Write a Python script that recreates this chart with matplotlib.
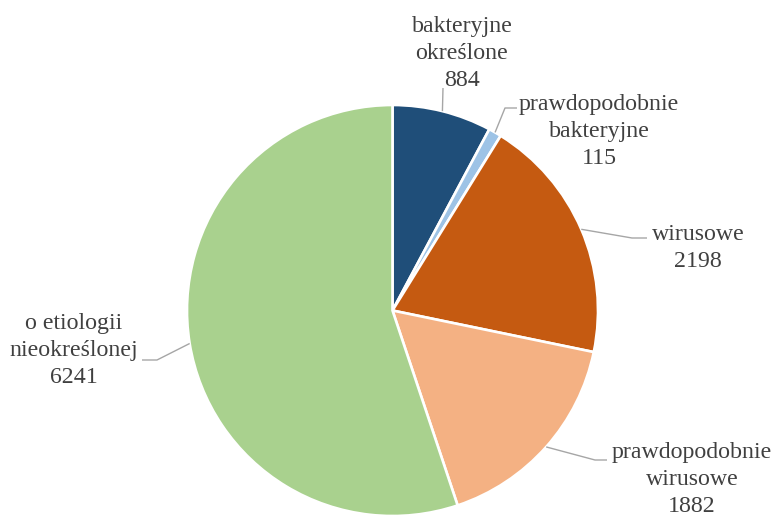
import numpy as np
import matplotlib
matplotlib.use("Agg")
import matplotlib.pyplot as plt

# Hospitalisation counts by aetiology
categories = [
    "bakteryjne\nokreślone",
    "prawdopodobnie\nbakteryjne",
    "wirusowe",
    "prawdopodobnie\nwirusowe",
    "o etiologii\nnieokreślonej",
]
values = [884, 115, 2198, 1882, 6241]
colors = ["#1F4E79", "#9DC3E6", "#C55A11", "#F4B183", "#A9D18E"]

W, H = 776, 516

# Label layout in pixel units (top-left origin): text centre x, first baseline y,
# elbow of the leader line and the end of its short horizontal run.
label_xy = [(462, 32), (599, 110), (698, 240), (692, 458), (74, 329)]
elbows = [(443, 88), (505, 108), (632, 238), (595, 460), (157, 360)]
tails = [(443, 88), (517, 108), (647, 238), (607, 460), (142, 360)]
line_step = 27.0


def py(y):
    return H - y


fig = plt.figure(figsize=(W / 100, H / 100), dpi=100)
ax = fig.add_axes([0, 0, 1, 1])

center = (392.5, py(310.5))
radius = 205.5
wedges, _ = ax.pie(
    values,
    colors=colors,
    startangle=90,
    counterclock=False,
    center=center,
    radius=radius,
    wedgeprops=dict(edgecolor="white", linewidth=1.9),
)

ax.set_xlim(0, W)
ax.set_ylim(0, H)
ax.set_aspect("equal")
ax.axis("off")

text_color = "#404040"
leader_color = "#A6A6A6"
font = dict(family="Liberation Serif", size=17.2, color=text_color)

for w, cat, val, (lx, ly), (ex, ey), (tx, ty) in zip(
    wedges, categories, values, label_xy, elbows, tails
):
    mid = np.deg2rad((w.theta1 + w.theta2) / 2)
    ax_x = w.center[0] + w.r * np.cos(mid)
    ax_y = w.center[1] + w.r * np.sin(mid)
    ax.plot([ax_x, ex, tx], [ax_y, py(ey), py(ty)], color=leader_color,
            lw=1.0, solid_capstyle="butt", zorder=1)
    lines = cat.split("\n") + [str(val)]
    for i, s in enumerate(lines):
        ax.text(lx, py(ly + i * line_step), s, ha="center", va="baseline", **font)

fig.savefig("out.png", dpi=100, facecolor="white")
